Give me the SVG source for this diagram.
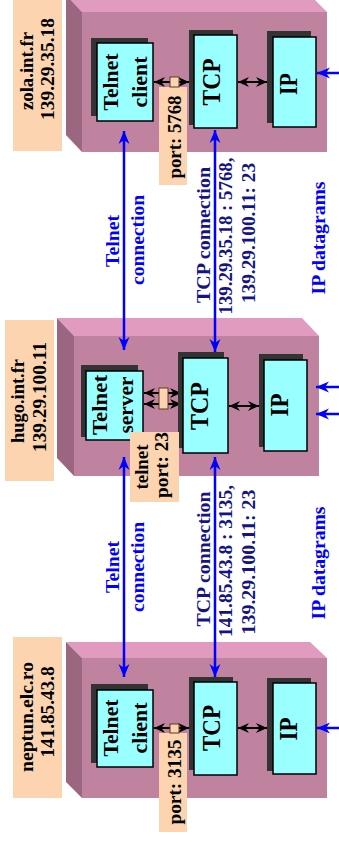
<svg xmlns="http://www.w3.org/2000/svg" width="339" height="843" viewBox="0 0 339 843">
<style>
.top{fill:#e09bbf}
.side{fill:#9a6680}
.front{fill:#c0839f}
.peach{fill:#fcd5b0}
.shadow{fill:#333333}
.node{fill:#99ffff;stroke:#000;stroke-width:1.5}
.port{fill:#fcd5b0;stroke:#5a3a20;stroke-width:1}
text{font-family:"Liberation Serif","Times New Roman",serif;font-weight:bold;text-anchor:middle}
.lbl{font-size:19px;fill:#000}
.nd{font-size:22px;fill:#000}
.big{font-size:25px;fill:#000}
.pt{font-size:18.5px;fill:#000}
.blue{font-size:19.5px;fill:#0000ff}
.navy{font-size:19.5px;fill:#141485}
.bl{stroke:#0000ff;stroke-width:2.5;fill:none}
.bk{stroke:#000;stroke-width:2;fill:none}
</style>
<defs>
<marker id="ab" markerUnits="userSpaceOnUse" markerWidth="14" markerHeight="12" refX="13" refY="6" orient="auto-start-reverse">
<path d="M0,0.5 L13,6 L0,11.5 L4,6 z" fill="#0000ff"/>
</marker>
<marker id="ak" markerUnits="userSpaceOnUse" markerWidth="12" markerHeight="11" refX="11" refY="5.5" orient="auto-start-reverse">
<path d="M0,0.5 L11,5.5 L0,10.5 L3.5,5.5 z" fill="#000"/>
</marker>
</defs>

<g id="zola">
<polygon class="top" points="66,-5 310,-5 327,12 82,12"/>
<polygon class="side" points="66,-5 82,12 82,152 66,135"/>
<rect class="front" x="82" y="12" width="245" height="140"/>
</g>
<g id="hugo">
<polygon class="top" points="57,318 302,318 319,336 74,336"/>
<polygon class="side" points="57,318 74,336 74,476 57,458"/>
<rect class="front" x="74" y="336" width="245" height="140"/>
</g>
<g id="neptun">
<polygon class="top" points="66,642 310,642 327,658 82,658"/>
<polygon class="side" points="66,642 82,658 82,798 66,782"/>
<rect class="front" x="82" y="658" width="245" height="140"/>
</g>

<g id="zola-label">
<rect class="peach" x="13" y="-2" width="49" height="153"/>
<text class="lbl" transform="translate(33,71) rotate(-90)" textLength="78" lengthAdjust="spacingAndGlyphs">zola.int.fr</text>
<text class="lbl" transform="translate(54,69) rotate(-90)" textLength="102" lengthAdjust="spacingAndGlyphs">139.29.35.18</text>
</g>
<g id="hugo-label">
<rect class="peach" x="5" y="320" width="49" height="161"/>
<text class="lbl" transform="translate(24,401) rotate(-90)" textLength="84" lengthAdjust="spacingAndGlyphs">hugo.int.fr</text>
<text class="lbl" transform="translate(46,397) rotate(-90)" textLength="110" lengthAdjust="spacingAndGlyphs">139.29.100.11</text>
</g>
<g id="neptun-label">
<rect class="peach" x="13" y="637" width="49" height="161"/>
<text class="lbl" transform="translate(33,717) rotate(-90)" textLength="110" lengthAdjust="spacingAndGlyphs">neptun.elc.ro</text>
<text class="lbl" transform="translate(54,712) rotate(-90)" textLength="91" lengthAdjust="spacingAndGlyphs">141.85.43.8</text>
</g>

<g id="connectors">
<line class="bl" x1="124" y1="131" x2="124" y2="350" marker-start="url(#ab)" marker-end="url(#ab)"/>
<line class="bl" x1="215" y1="130" x2="215" y2="352" marker-start="url(#ab)" marker-end="url(#ab)"/>
<line class="bl" x1="124" y1="457" x2="124" y2="677" marker-start="url(#ab)" marker-end="url(#ab)"/>
<line class="bl" x1="215" y1="457" x2="215" y2="677" marker-start="url(#ab)" marker-end="url(#ab)"/>
<line class="bl" x1="339" y1="73" x2="317" y2="73" marker-end="url(#ab)"/>
<line class="bl" x1="339" y1="387" x2="316" y2="387" marker-end="url(#ab)"/>
<line class="bl" x1="339" y1="414" x2="316" y2="414" marker-end="url(#ab)"/>
<line class="bl" x1="339" y1="728" x2="317" y2="728" marker-end="url(#ab)"/>
<line class="bk" x1="154" y1="82" x2="189" y2="82" marker-start="url(#ak)" marker-end="url(#ak)"/>
<line class="bk" x1="238" y1="82" x2="267" y2="82" marker-start="url(#ak)" marker-end="url(#ak)"/>
<line class="bk" x1="144" y1="393" x2="181" y2="393" marker-start="url(#ak)" marker-end="url(#ak)"/>
<line class="bk" x1="144" y1="404" x2="181" y2="404" marker-start="url(#ak)" marker-end="url(#ak)"/>
<line class="bk" x1="229" y1="406" x2="259" y2="406" marker-start="url(#ak)" marker-end="url(#ak)"/>
<line class="bk" x1="154" y1="728" x2="189" y2="728" marker-start="url(#ak)" marker-end="url(#ak)"/>
<line class="bk" x1="238" y1="728" x2="267" y2="728" marker-start="url(#ak)" marker-end="url(#ak)"/>
</g>

<g id="zola-telnet">
<rect class="shadow" x="91" y="38" width="57" height="78"/>
<rect class="node" x="97" y="43" width="56" height="78"/>
<text class="nd" transform="translate(118,82) rotate(-90)" textLength="57" lengthAdjust="spacingAndGlyphs">Telnet</text>
<text class="nd" transform="translate(147,82) rotate(-90)" textLength="51" lengthAdjust="spacingAndGlyphs">client</text>
</g>
<g id="zola-tcp">
<rect class="shadow" x="189" y="30" width="44" height="95"/>
<rect class="node" x="194" y="35" width="43" height="93"/>
<text class="big" transform="translate(220,82) rotate(-90)" textLength="47" lengthAdjust="spacingAndGlyphs">TCP</text>
</g>
<g id="zola-ip">
<rect class="shadow" x="267" y="31" width="44" height="92"/>
<rect class="node" x="273" y="37" width="43" height="90"/>
<text class="big" transform="translate(297,84) rotate(-90)" textLength="22" lengthAdjust="spacingAndGlyphs">IP</text>
</g>
<g id="zola-port">
<rect class="peach" x="159" y="87" width="28" height="98"/>
<text class="pt" transform="translate(181,137) rotate(-90)" textLength="83" lengthAdjust="spacingAndGlyphs">port: 5768</text>
<rect class="port" x="170" y="77" width="9" height="10"/>
</g>

<g id="hugo-telnet">
<rect class="shadow" x="81" y="365" width="57" height="72"/>
<rect class="node" x="86" y="371" width="57" height="69"/>
<text class="nd" transform="translate(107,405) rotate(-90)" textLength="60" lengthAdjust="spacingAndGlyphs">Telnet</text>
<text class="nd" transform="translate(133,405) rotate(-90)" textLength="57" lengthAdjust="spacingAndGlyphs">server</text>
</g>
<g id="hugo-tcp">
<rect class="shadow" x="178" y="352" width="46" height="96"/>
<rect class="node" x="183" y="358" width="45" height="95"/>
<text class="big" transform="translate(208,406) rotate(-90)" textLength="48" lengthAdjust="spacingAndGlyphs">TCP</text>
</g>
<g id="hugo-ip">
<rect class="shadow" x="259" y="354" width="44" height="93"/>
<rect class="node" x="264" y="360" width="43" height="91"/>
<text class="big" transform="translate(288,405) rotate(-90)" textLength="23" lengthAdjust="spacingAndGlyphs">IP</text>
</g>
<g id="hugo-port">
<rect class="peach" x="130" y="432" width="49" height="70"/>
<text class="pt" transform="translate(148,467) rotate(-90)" textLength="45" lengthAdjust="spacingAndGlyphs">telnet</text>
<text class="pt" transform="translate(168,465) rotate(-90)" textLength="66" lengthAdjust="spacingAndGlyphs">port: 23</text>
<rect class="port" x="159" y="388" width="9" height="21"/>
</g>

<g id="neptun-telnet">
<rect class="shadow" x="91" y="684" width="57" height="79"/>
<rect class="node" x="97" y="690" width="56" height="77"/>
<text class="nd" transform="translate(118,728) rotate(-90)" textLength="57" lengthAdjust="spacingAndGlyphs">Telnet</text>
<text class="nd" transform="translate(147,728) rotate(-90)" textLength="51" lengthAdjust="spacingAndGlyphs">client</text>
</g>
<g id="neptun-tcp">
<rect class="shadow" x="189" y="677" width="44" height="93"/>
<rect class="node" x="194" y="682" width="43" height="93"/>
<text class="big" transform="translate(220,728) rotate(-90)" textLength="46" lengthAdjust="spacingAndGlyphs">TCP</text>
</g>
<g id="neptun-ip">
<rect class="shadow" x="267" y="678" width="44" height="93"/>
<rect class="node" x="273" y="683" width="43" height="91"/>
<text class="big" transform="translate(297,729) rotate(-90)" textLength="23" lengthAdjust="spacingAndGlyphs">IP</text>
</g>
<g id="neptun-port">
<rect class="peach" x="159" y="733" width="28" height="99"/>
<text class="pt" transform="translate(181,782) rotate(-90)" textLength="85" lengthAdjust="spacingAndGlyphs">port: 3135</text>
<rect class="port" x="170" y="724" width="9" height="9"/>
</g>

<g id="labels-upper">
<text class="blue" transform="translate(119,241) rotate(-90)" textLength="52" lengthAdjust="spacingAndGlyphs">Telnet</text>
<text class="blue" transform="translate(144,240) rotate(-90)" textLength="90" lengthAdjust="spacingAndGlyphs">connection</text>
<text class="navy" transform="translate(210,235) rotate(-90)" textLength="136" lengthAdjust="spacingAndGlyphs">TCP connection</text>
<text class="navy" transform="translate(232,236) rotate(-90)" textLength="157" lengthAdjust="spacingAndGlyphs">139.29.35.18 : 5768,</text>
<text class="navy" transform="translate(255,233) rotate(-90)" textLength="140" lengthAdjust="spacingAndGlyphs">139.29.100.11: 23</text>
<text class="blue" transform="translate(325,238) rotate(-90)" textLength="113" lengthAdjust="spacingAndGlyphs">IP datagrams</text>
</g>
<g id="labels-lower">
<text class="blue" transform="translate(119,567) rotate(-90)" textLength="52" lengthAdjust="spacingAndGlyphs">Telnet</text>
<text class="blue" transform="translate(144,567) rotate(-90)" textLength="90" lengthAdjust="spacingAndGlyphs">connection</text>
<text class="navy" transform="translate(210,559) rotate(-90)" textLength="135" lengthAdjust="spacingAndGlyphs">TCP connection</text>
<text class="navy" transform="translate(232,561) rotate(-90)" textLength="152" lengthAdjust="spacingAndGlyphs">141.85.43.8 : 3135,</text>
<text class="navy" transform="translate(255,562) rotate(-90)" textLength="145" lengthAdjust="spacingAndGlyphs">139.29.100.11: 23</text>
<text class="blue" transform="translate(325,563) rotate(-90)" textLength="113" lengthAdjust="spacingAndGlyphs">IP datagrams</text>
</g>
</svg>
